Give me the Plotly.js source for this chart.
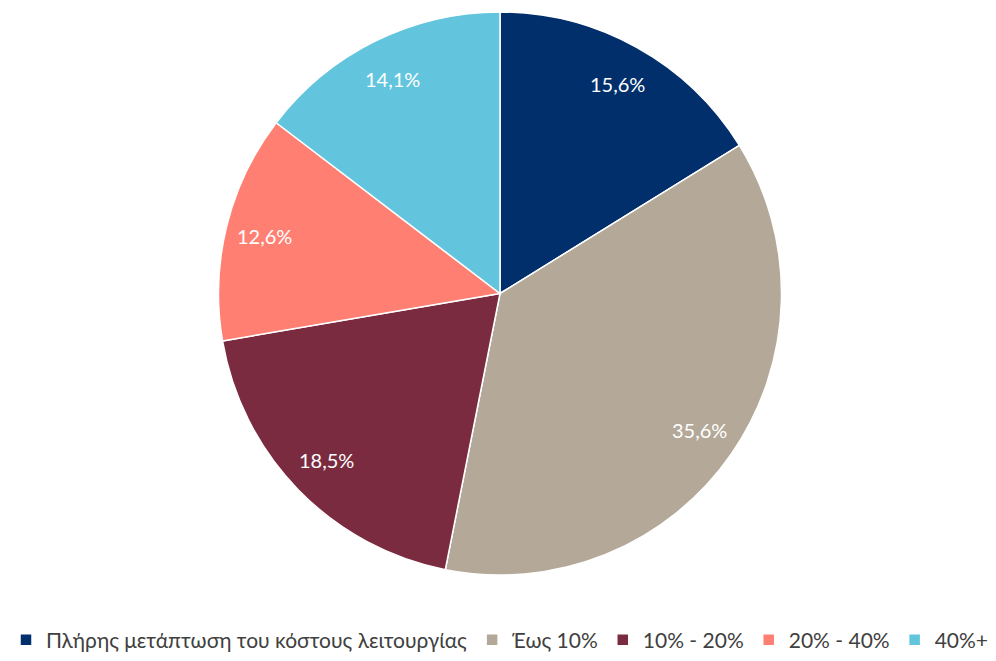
<!DOCTYPE html>
<html>
<head>
<meta charset="utf-8">
<script src="https://cdn.plot.ly/plotly-3.0.1.min.js"></script>
<style>html,body{margin:0;padding:0;background:#fff;}#chart{width:996px;height:661px;}</style>
</head>
<body>
<div id="chart"></div>
<script>
const categories = ["Πλήρης μετάπτωση του κόστους λειτουργίας", "Έως 10%", "10% - 20%", "20% - 40%", "40%+"];
const values = [15.6, 35.6, 18.5, 12.6, 14.1];
const colors = ["#002F6C", "#B4A898", "#7B2B40", "#FF8073", "#62C5DD"];
const labelsText = values.map(v => v.toFixed(1).replace('.', ',') + '%');

const W = 996, H = 661;
const margin = {l: 4, r: 0, t: 12, b: 79};
const plotW = W - margin.l - margin.r;
const plotH = H - margin.t - margin.b;
const R = Math.min(plotW, plotH) / 2;
const labelR = 0.85 * R;

const total = values.reduce((a, b) => a + b, 0);
let cum = 0;
const annotations = values.map((v, i) => {
  const f = (cum + v / 2) / total;
  cum += v;
  const th = 2 * Math.PI * f;
  return {
    xref: 'paper', yref: 'paper',
    x: 0.5 + labelR * Math.sin(th) / plotW,
    y: 0.5 + labelR * Math.cos(th) / plotH,
    text: labelsText[i],
    showarrow: false,
    xanchor: 'center', yanchor: 'middle',
    font: {color: '#ffffff', size: 20, family: 'Lato, sans-serif'}
  };
});

const trace = {
  type: 'pie',
  labels: categories,
  values: values,
  text: labelsText,
  textinfo: 'none',
  hoverinfo: 'label+text',
  sort: false,
  direction: 'clockwise',
  rotation: 0,
  marker: {colors: colors, line: {color: '#ffffff', width: 1.5}},
  domain: {x: [0, 1], y: [0, 1]}
};

const layout = {
  width: W,
  height: H,
  margin: margin,
  paper_bgcolor: '#ffffff',
  showlegend: true,
  annotations: annotations,
  legend: {
    orientation: 'h',
    x: 0.5, xanchor: 'center',
    y: -((648 - (H - margin.b)) / plotH), yanchor: 'middle',
    font: {size: 21, color: '#404040', family: 'Lato, sans-serif'},
    itemwidth: 30,
    tracegroupgap: 0
  },
  font: {family: 'Lato, sans-serif'}
};

Plotly.newPlot('chart', [trace], layout, {displayModeBar: false});
</script>
</body>
</html>
